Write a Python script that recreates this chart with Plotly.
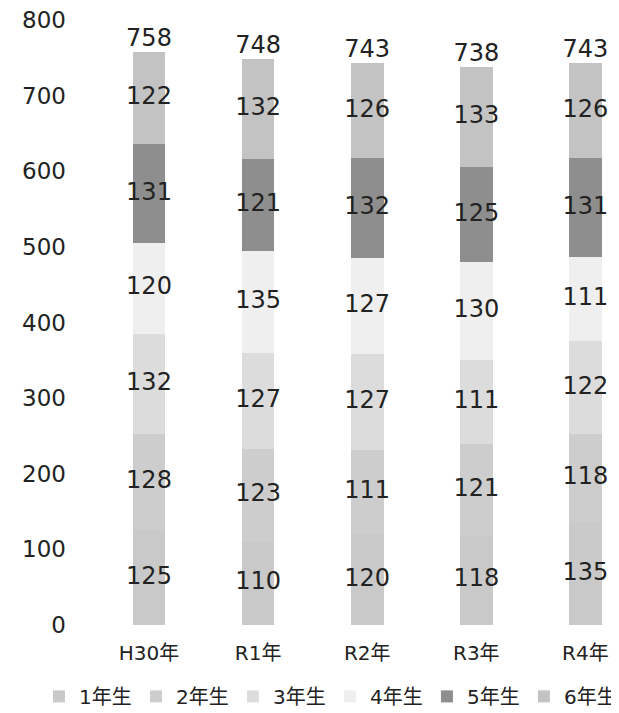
import plotly.graph_objects as go

categories = ["H30年", "R1年", "R2年", "R3年", "R4年"]
series_names = ["1年生", "2年生", "3年生", "4年生", "5年生", "6年生"]
grade1 = [125, 110, 120, 118, 135]
grade2 = [128, 123, 111, 121, 118]
grade3 = [132, 127, 127, 111, 122]
grade4 = [120, 135, 127, 130, 111]
grade5 = [131, 121, 132, 125, 131]
grade6 = [122, 132, 126, 133, 126]
totals = [758, 748, 743, 738, 743]
y_ticks = [0, 100, 200, 300, 400, 500, 600, 700, 800]

series = [grade1, grade2, grade3, grade4, grade5, grade6]
colors = ["#c9c9c9", "#cdcdcd", "#dcdcdc", "#efefef", "#8e8e8e", "#c3c3c3"]

FONT = "DejaVu Sans, Noto Sans CJK JP, sans-serif"
TXT = "#222222"
W = 619
AXIS_PX = 86      # pixel position of the value axis
CAT_PX = 109.1    # pixels per category
FIRST_PX = 141    # centre of first bar
x0 = -FIRST_PX / CAT_PX
x1 = x0 + W / CAT_PX

fig = go.Figure()
for name, vals, col in zip(series_names, series, colors):
    fig.add_trace(go.Bar(x=categories, y=vals, name=name, marker_color=col,
                         marker_line_width=0, width=0.30, hoverinfo="skip"))

# segment labels
base = [0] * len(categories)
for vals in series:
    mids = [b + v / 2 for b, v in zip(base, vals)]
    fig.add_trace(go.Scatter(x=categories, y=mids, mode="text", text=[str(v) for v in vals],
                             textfont=dict(size=24, color=TXT, family=FONT),
                             showlegend=False, hoverinfo="skip"))
    base = [b + v for b, v in zip(base, vals)]

fig.add_trace(go.Scatter(x=categories, y=totals, mode="text", text=[str(t) for t in totals],
                         textposition="top center",
                         textfont=dict(size=24, color=TXT, family=FONT),
                         showlegend=False, hoverinfo="skip"))

fig.update_layout(
    width=W, height=713,
    barmode="stack",
    paper_bgcolor="white", plot_bgcolor="white",
    margin=dict(l=0, r=0, t=12, b=96, autoexpand=False),
    font=dict(family=FONT, color=TXT),
    xaxis=dict(range=[x0, x1], domain=[0, 1], showgrid=False, showline=False, zeroline=False,
               tickfont=dict(size=20, color=TXT), ticklabelstandoff=14),
    yaxis=dict(range=[0, 800], tickvals=y_ticks, showgrid=False, showline=False, zeroline=False,
               anchor="free", position=AXIS_PX / W,
               tickfont=dict(size=23, color=TXT), ticklabelstandoff=28,
               ticklabeloverflow="allow"),
    legend=dict(orientation="h", x=0.05, xanchor="left", xref="container",
                y=-0.118, yanchor="middle", yref="paper",
                font=dict(size=20, color=TXT), itemwidth=30, entrywidth=52,
                traceorder="normal"),
    showlegend=True,
)

fig.write_html("out.html")
